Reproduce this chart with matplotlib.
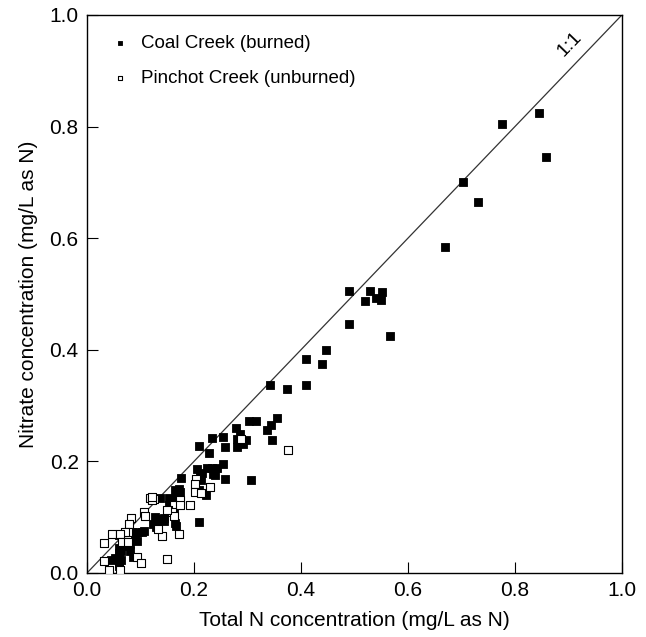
import numpy as np
import matplotlib
matplotlib.use("Agg")
import matplotlib.pyplot as plt

plt.rcParams['font.family'] = ['Liberation Sans', 'DejaVu Sans']

# Coal Creek (burned) - filled squares
coal_tn = [0.845, 0.775, 0.858, 0.703, 0.731, 0.670,
           0.490, 0.529, 0.551, 0.519, 0.540, 0.550,
           0.489, 0.566, 0.447, 0.409, 0.440,
           0.342, 0.373, 0.410,
           0.302, 0.316, 0.356, 0.344, 0.337,
           0.279, 0.286, 0.280, 0.298, 0.292, 0.281, 0.345, 0.306,
           0.233, 0.255, 0.210, 0.258, 0.228, 0.255, 0.243, 0.233, 0.224, 0.205,
           0.215, 0.235, 0.240, 0.176, 0.211, 0.258, 0.214,
           0.172, 0.164, 0.173, 0.210, 0.222, 0.167, 0.137, 0.156, 0.162, 0.128,
           0.143, 0.210, 0.167, 0.165, 0.154, 0.153,
           0.129, 0.144, 0.124, 0.129, 0.084, 0.096, 0.090, 0.103, 0.107, 0.093,
           0.071, 0.081, 0.059, 0.064, 0.081, 0.086, 0.059, 0.064, 0.045, 0.053,
           0.059, 0.060, 0.059, 0.060]
coal_no3 = [0.825, 0.804, 0.745, 0.701, 0.665, 0.584,
            0.506, 0.505, 0.503, 0.488, 0.492, 0.489,
            0.446, 0.425, 0.400, 0.384, 0.375,
            0.336, 0.329, 0.337,
            0.272, 0.272, 0.278, 0.266, 0.256,
            0.259, 0.249, 0.241, 0.238, 0.231, 0.226, 0.239, 0.166,
            0.242, 0.243, 0.228, 0.225, 0.215, 0.195, 0.189, 0.189, 0.189, 0.186,
            0.179, 0.178, 0.176, 0.170, 0.172, 0.168, 0.167,
            0.151, 0.148, 0.146, 0.149, 0.140, 0.137, 0.134, 0.124, 0.115, 0.101,
            0.099, 0.091, 0.085, 0.090, 0.122, 0.134,
            0.097, 0.094, 0.088, 0.083, 0.073, 0.074, 0.067, 0.073, 0.076, 0.058,
            0.049, 0.052, 0.044, 0.040, 0.040, 0.028, 0.029, 0.023, 0.024, 0.026,
            0.013, 0.068, 0.035, 0.018]

# Pinchot Creek (unburned) - open squares
pin_tn = [0.375, 0.229, 0.192, 0.203, 0.201, 0.201, 0.214, 0.174, 0.162, 0.173,
          0.151, 0.159, 0.162, 0.106, 0.108, 0.118, 0.125, 0.122, 0.121, 0.083,
          0.078, 0.076, 0.071, 0.046, 0.062, 0.140, 0.133, 0.172, 0.066, 0.077,
          0.032, 0.093, 0.031, 0.101, 0.150, 0.041, 0.061, 0.150, 0.288]
pin_no3 = [0.220, 0.154, 0.121, 0.168, 0.160, 0.146, 0.143, 0.131, 0.122, 0.122,
           0.113, 0.109, 0.102, 0.109, 0.102, 0.134, 0.133, 0.130, 0.137, 0.098,
           0.087, 0.074, 0.073, 0.070, 0.070, 0.067, 0.078, 0.070, 0.055, 0.056,
           0.053, 0.029, 0.022, 0.018, 0.025, 0.005, 0.005, 0.112, 0.240]

ticks = [0.0, 0.2, 0.4, 0.6, 0.8, 1.0]

fig = plt.figure(figsize=(6.46, 6.37), dpi=100)
ax = fig.add_axes([0.1347, 0.1005, 0.828, 0.876])

ax.plot([0, 1], [0, 1], color='#333333', lw=0.9, zorder=1)
ax.scatter(coal_tn, coal_no3, marker='s', s=30, c='black', edgecolors='black',
           linewidths=0.6, label='Coal Creek (burned)', zorder=2)
ax.scatter(pin_tn, pin_no3, marker='s', s=30, facecolors='white', edgecolors='black',
           linewidths=0.8, label='Pinchot Creek (unburned)', zorder=3)

ax.text(0.903, 0.947, '1:1', rotation=46, fontsize=14, ha='center', va='center')

ax.set_xlim(0, 1)
ax.set_ylim(0, 1)
ax.set_xticks(ticks)
ax.set_yticks(ticks)
ax.set_xticklabels(['%.1f' % t for t in ticks])
ax.set_yticklabels(['%.1f' % t for t in ticks])
ax.tick_params(direction='in', length=8, width=0.8, labelsize=15)
ax.tick_params(axis='x', pad=6)
ax.tick_params(axis='y', pad=6)
for sp in ax.spines.values():
    sp.set_linewidth(1.0)

ax.set_xlabel('Total N concentration (mg/L as N)', fontsize=15, labelpad=8)
ax.set_ylabel('Nitrate concentration (mg/L as N)', fontsize=15, labelpad=8)

ax.legend(loc='upper left', frameon=False, fontsize=13.5, markerscale=0.55,
          handlelength=0.6, handletextpad=0.8, labelspacing=0.95,
          borderaxespad=0.2, bbox_to_anchor=(0.03, 0.985))

fig.savefig('out.png', dpi=100)
